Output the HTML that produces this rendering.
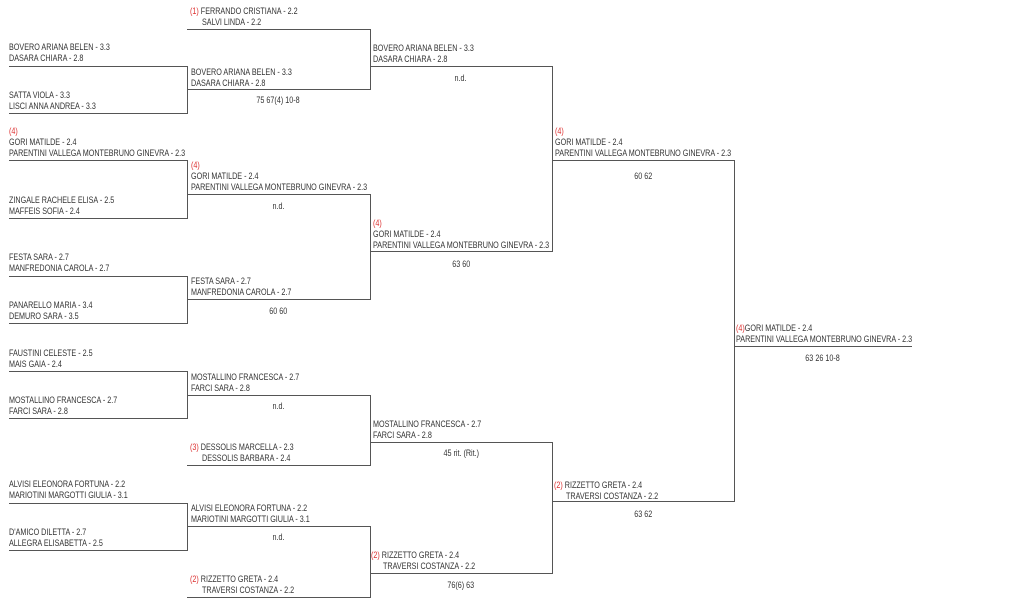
<!DOCTYPE html>
<html><head><meta charset="utf-8"><style>
body{margin:0;width:1024px;height:616px;background:#fff;position:relative;overflow:hidden;font-family:"Liberation Sans",sans-serif;}
.t{position:absolute;white-space:nowrap;font-size:9px;line-height:11px;color:#333;transform:scaleX(.8);transform-origin:0 0;}
.s{position:absolute;white-space:nowrap;font-size:9px;line-height:11px;color:#333;text-align:center;}
.s span{display:inline-block;transform:scaleX(.8);}
.r{color:#d33;}
.h{position:absolute;height:1px;background:#555;}
.v{position:absolute;width:1px;background:#555;}
</style></head><body>
<!-- col1 -->
<div class="t" style="left:9px;top:42px">BOVERO ARIANA BELEN - 3.3<br>DASARA CHIARA - 2.8</div>
<div class="h" style="left:9px;top:66px;width:179px"></div>
<div class="t" style="left:9px;top:90px">SATTA VIOLA - 3.3<br>LISCI ANNA ANDREA - 3.3</div>
<div class="h" style="left:9px;top:113px;width:179px"></div>
<div class="v" style="left:187px;top:66px;height:48px"></div>

<div class="t" style="left:9px;top:126px"><span class="r">(4)</span><br>GORI MATILDE - 2.4<br>PARENTINI VALLEGA MONTEBRUNO GINEVRA - 2.3</div>
<div class="h" style="left:9px;top:160px;width:179px"></div>
<div class="t" style="left:9px;top:195px">ZINGALE RACHELE ELISA - 2.5<br>MAFFEIS SOFIA - 2.4</div>
<div class="h" style="left:9px;top:218px;width:179px"></div>
<div class="v" style="left:187px;top:160px;height:59px"></div>

<div class="t" style="left:9px;top:252px">FESTA SARA - 2.7<br>MANFREDONIA CAROLA - 2.7</div>
<div class="h" style="left:9px;top:276px;width:179px"></div>
<div class="t" style="left:9px;top:300px">PANARELLO MARIA - 3.4<br>DEMURO SARA - 3.5</div>
<div class="h" style="left:9px;top:323px;width:179px"></div>
<div class="v" style="left:187px;top:276px;height:48px"></div>

<div class="t" style="left:9px;top:348px">FAUSTINI CELESTE - 2.5<br>MAIS GAIA - 2.4</div>
<div class="h" style="left:9px;top:371px;width:179px"></div>
<div class="t" style="left:9px;top:395px">MOSTALLINO FRANCESCA - 2.7<br>FARCI SARA - 2.8</div>
<div class="h" style="left:9px;top:418px;width:179px"></div>
<div class="v" style="left:187px;top:371px;height:48px"></div>

<div class="t" style="left:9px;top:479px">ALVISI ELEONORA FORTUNA - 2.2<br>MARIOTINI MARGOTTI GIULIA - 3.1</div>
<div class="h" style="left:9px;top:503px;width:179px"></div>
<div class="t" style="left:9px;top:527px">D'AMICO DILETTA - 2.7<br>ALLEGRA ELISABETTA - 2.5</div>
<div class="h" style="left:9px;top:550px;width:179px"></div>
<div class="v" style="left:187px;top:503px;height:48px"></div>

<!-- col2 -->
<div class="t" style="left:190px;top:6px"><span class="r">(1)</span> FERRANDO CRISTIANA - 2.2<br>&nbsp;&nbsp;&nbsp;&nbsp;&nbsp;&nbsp;SALVI LINDA - 2.2</div>
<div class="h" style="left:187px;top:29px;width:184px"></div>
<div class="t" style="left:191px;top:67px">BOVERO ARIANA BELEN - 3.3<br>DASARA CHIARA - 2.8</div>
<div class="h" style="left:187px;top:89px;width:184px"></div>
<div class="s" style="left:187px;top:95px;width:183px"><span>75 67(4) 10-8</span></div>
<div class="v" style="left:370px;top:29px;height:61px"></div>

<div class="t" style="left:191px;top:160px"><span class="r">(4)</span><br>GORI MATILDE - 2.4<br>PARENTINI VALLEGA MONTEBRUNO GINEVRA - 2.3</div>
<div class="h" style="left:187px;top:194px;width:184px"></div>
<div class="s" style="left:187px;top:201px;width:183px"><span>n.d.</span></div>
<div class="t" style="left:191px;top:276px">FESTA SARA - 2.7<br>MANFREDONIA CAROLA - 2.7</div>
<div class="h" style="left:187px;top:299px;width:184px"></div>
<div class="s" style="left:187px;top:306px;width:183px"><span>60 60</span></div>
<div class="v" style="left:370px;top:194px;height:106px"></div>

<div class="t" style="left:191px;top:372px">MOSTALLINO FRANCESCA - 2.7<br>FARCI SARA - 2.8</div>
<div class="h" style="left:187px;top:395px;width:184px"></div>
<div class="s" style="left:187px;top:401px;width:183px"><span>n.d.</span></div>
<div class="t" style="left:190px;top:442px"><span class="r">(3)</span> DESSOLIS MARCELLA - 2.3<br>&nbsp;&nbsp;&nbsp;&nbsp;&nbsp;&nbsp;DESSOLIS BARBARA - 2.4</div>
<div class="h" style="left:187px;top:465px;width:184px"></div>
<div class="v" style="left:370px;top:395px;height:71px"></div>

<div class="t" style="left:191px;top:503px">ALVISI ELEONORA FORTUNA - 2.2<br>MARIOTINI MARGOTTI GIULIA - 3.1</div>
<div class="h" style="left:187px;top:526px;width:184px"></div>
<div class="s" style="left:187px;top:532px;width:183px"><span>n.d.</span></div>
<div class="t" style="left:190px;top:574px"><span class="r">(2)</span> RIZZETTO GRETA - 2.4<br>&nbsp;&nbsp;&nbsp;&nbsp;&nbsp;&nbsp;TRAVERSI COSTANZA - 2.2</div>
<div class="h" style="left:187px;top:597px;width:184px"></div>
<div class="v" style="left:370px;top:526px;height:72px"></div>

<!-- col3 -->
<div class="t" style="left:373px;top:43px">BOVERO ARIANA BELEN - 3.3<br>DASARA CHIARA - 2.8</div>
<div class="h" style="left:370px;top:66px;width:183px"></div>
<div class="s" style="left:370px;top:73px;width:182px"><span>n.d.</span></div>
<div class="t" style="left:373px;top:218px"><span class="r">(4)</span><br>GORI MATILDE - 2.4<br>PARENTINI VALLEGA MONTEBRUNO GINEVRA - 2.3</div>
<div class="h" style="left:370px;top:251px;width:183px"></div>
<div class="s" style="left:370px;top:259px;width:182px"><span>63 60</span></div>
<div class="v" style="left:552px;top:66px;height:186px"></div>

<div class="t" style="left:373px;top:419px">MOSTALLINO FRANCESCA - 2.7<br>FARCI SARA - 2.8</div>
<div class="h" style="left:370px;top:442px;width:183px"></div>
<div class="s" style="left:370px;top:448px;width:182px"><span>45 rit. (Rit.)</span></div>
<div class="t" style="left:371px;top:550px"><span class="r">(2)</span> RIZZETTO GRETA - 2.4<br>&nbsp;&nbsp;&nbsp;&nbsp;&nbsp;&nbsp;TRAVERSI COSTANZA - 2.2</div>
<div class="h" style="left:370px;top:573px;width:183px"></div>
<div class="s" style="left:370px;top:580px;width:182px"><span>76(6) 63</span></div>
<div class="v" style="left:552px;top:442px;height:132px"></div>

<!-- col4 -->
<div class="t" style="left:555px;top:126px"><span class="r">(4)</span><br>GORI MATILDE - 2.4<br>PARENTINI VALLEGA MONTEBRUNO GINEVRA - 2.3</div>
<div class="h" style="left:552px;top:160px;width:183px"></div>
<div class="s" style="left:552px;top:171px;width:182px"><span>60 62</span></div>
<div class="t" style="left:554px;top:480px"><span class="r">(2)</span> RIZZETTO GRETA - 2.4<br>&nbsp;&nbsp;&nbsp;&nbsp;&nbsp;&nbsp;TRAVERSI COSTANZA - 2.2</div>
<div class="h" style="left:552px;top:501px;width:183px"></div>
<div class="s" style="left:552px;top:509px;width:182px"><span>63 62</span></div>
<div class="v" style="left:734px;top:160px;height:342px"></div>

<!-- final -->
<div class="t" style="left:736px;top:323px"><span class="r">(4)</span>GORI MATILDE - 2.4<br>PARENTINI VALLEGA MONTEBRUNO GINEVRA - 2.3</div>
<div class="h" style="left:734px;top:346px;width:178px"></div>
<div class="s" style="left:734px;top:353px;width:178px"><span>63 26 10-8</span></div>
</body></html>
